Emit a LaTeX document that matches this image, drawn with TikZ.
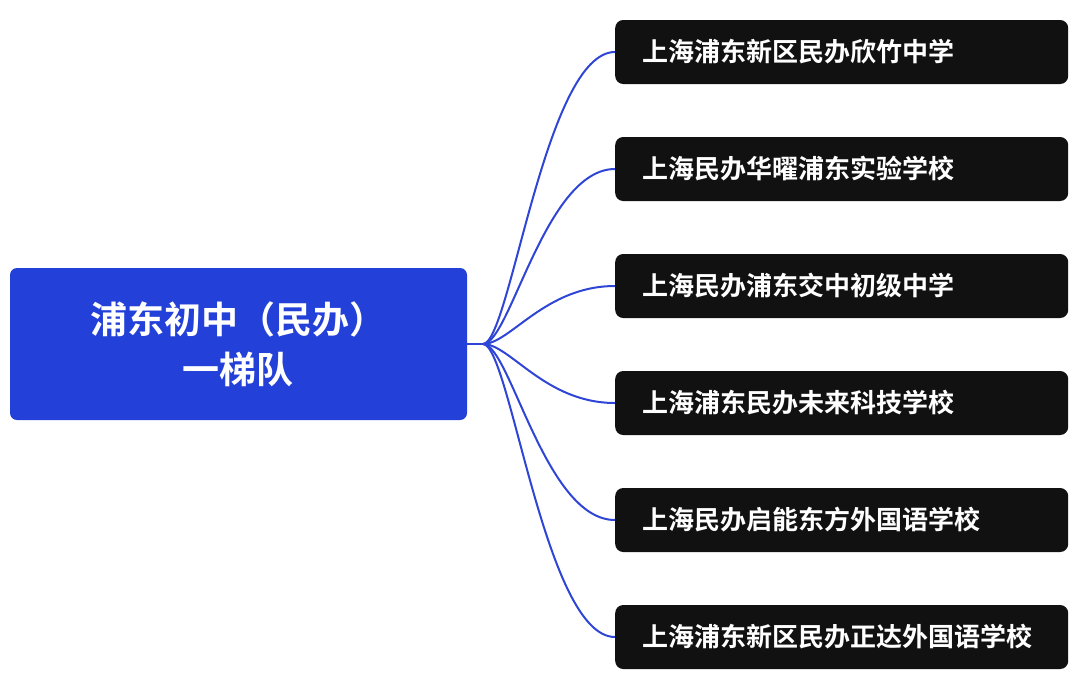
\documentclass[tikz,border=0pt]{standalone}
\usepackage{fontspec}
\newfontfamily\cjk{Noto Sans CJK SC}[BoldFont={Noto Sans CJK SC Bold}]
\definecolor{rootblue}{HTML}{2340D9}
\definecolor{leafblack}{HTML}{111111}
\definecolor{linkblue}{HTML}{2F45D6}
\begin{document}
\begin{tikzpicture}[x=1pt,y=-1pt,
  rootbox/.style={fill=rootblue,rounded corners=7pt,minimum width=457pt,minimum height=152pt,text=white,font=\cjk\bfseries\fontsize{37}{50}\selectfont,align=center,inner sep=0pt},
  leafbox/.style={fill=leafblack,rounded corners=8pt,minimum width=453pt,minimum height=64pt,text=white,font=\cjk\bfseries\fontsize{26}{30}\selectfont,anchor=west,text width=453pt,inner sep=0pt,align=left},
  link/.style={draw=linkblue,line width=2pt}]
\useasboundingbox (0,0) rectangle (1080,681);
\node[rootbox] (root) at (238.5,344) {浦东初中（民办）\\一梯队};
\coordinate (hub) at (483,344);
\draw[link] (root.east) -- (hub);
\foreach \i/\y/\t in {1/52/上海浦东新区民办欣竹中学,2/169/上海民办华曜浦东实验学校,3/286/上海民办浦东交中初级中学,4/403/上海浦东民办未来科技学校,5/520/上海民办启能东方外国语学校,6/637/上海浦东新区民办正达外国语学校}{
  \node[leafbox] (c\i) at (615,\y) {\hspace*{27pt}\t};
  \draw[link] (hub) .. controls (510,344) and (545,\y) .. (c\i.west);
}
\end{tikzpicture}
\end{document}
